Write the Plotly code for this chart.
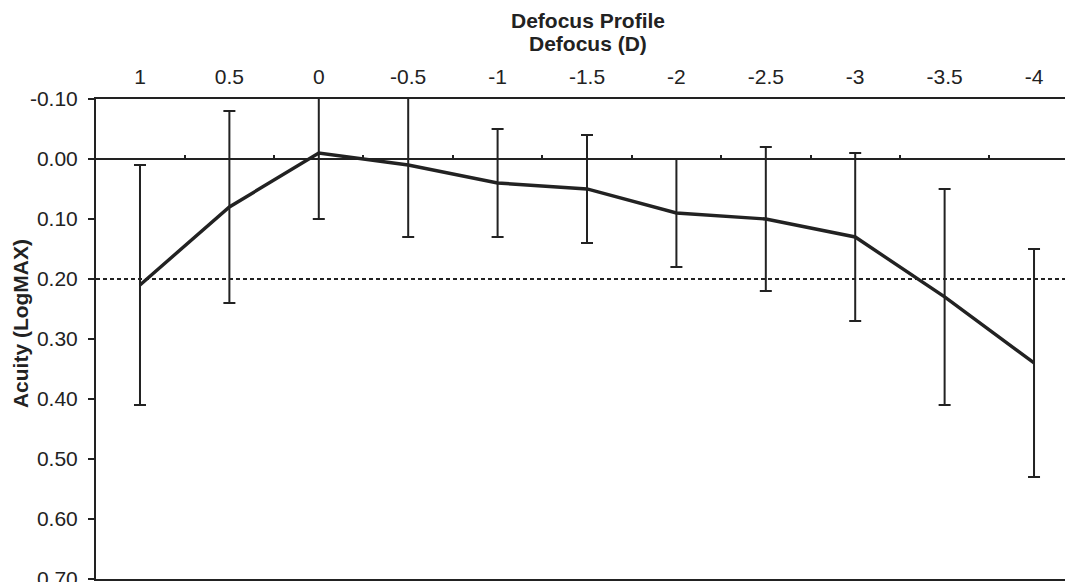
import plotly.graph_objects as go

categories = ["1", "0.5", "0", "-0.5", "-1", "-1.5", "-2", "-2.5", "-3", "-3.5", "-4"]
acuity = [0.21, 0.08, -0.01, 0.01, 0.04, 0.05, 0.09, 0.10, 0.13, 0.23, 0.34]
err = [0.20, 0.16, 0.11, 0.12, 0.09, 0.09, 0.09, 0.12, 0.14, 0.18, 0.19]
y_ticks = [-0.1, 0.0, 0.1, 0.2, 0.3, 0.4, 0.5, 0.6, 0.7]
threshold = 0.20

xpos = list(range(len(categories)))
half_ticks = [i + 0.5 for i in range(-1, len(categories))]

ink = "#222222"
font = "Liberation Sans, Arial, sans-serif"
fs = 21

fig = go.Figure()
fig.add_trace(go.Scatter(
    x=xpos, y=acuity, mode="lines",
    line=dict(color=ink, width=3.4),
    error_y=dict(type="data", array=err, visible=True, color=ink, thickness=2, width=6),
    showlegend=False, hoverinfo="skip"))
# invisible trace to activate the minor-tick axis on the zero line
fig.add_trace(go.Scatter(x=[xpos[0]], y=[acuity[0]], xaxis="x2", mode="markers",
                         marker=dict(opacity=0), showlegend=False, hoverinfo="skip"))

fig.add_shape(type="line", xref="paper", x0=0, x1=1, yref="y", y0=threshold, y1=threshold,
              line=dict(color=ink, width=2, dash="4px,3px"))

fig.add_annotation(text="<b>Defocus Profile</b>", xref="paper", yref="paper", x=0.504, y=1,
                   xanchor="center", yanchor="middle", yshift=79, showarrow=False,
                   font=dict(size=fs, color=ink, family=font))
fig.add_annotation(text="<b>Defocus (D)</b>", xref="paper", yref="paper", x=0.504, y=1,
                   xanchor="center", yanchor="middle", yshift=56, showarrow=False,
                   font=dict(size=fs, color=ink, family=font))
fig.add_annotation(text="<b>Acuity (LogMAX)</b>", xref="paper", yref="paper", x=0, y=0.531,
                   xanchor="center", yanchor="middle", xshift=-76, textangle=-90,
                   showarrow=False, font=dict(size=fs, color=ink, family=font))

xr = [-0.492, 10.436]
fig.update_layout(
    width=1065, height=574,
    margin=dict(l=88, r=0, t=91, b=3, autoexpand=False),
    paper_bgcolor="white", plot_bgcolor="white",
    font=dict(family=font, size=fs, color=ink),
    xaxis=dict(range=xr, tickmode="array", tickvals=xpos, ticktext=categories,
               side="top", showgrid=False, zeroline=False, showline=True, linecolor=ink,
               linewidth=2, mirror=True, ticks="", ticklabelstandoff=5, automargin=False),
    xaxis2=dict(range=xr, overlaying="x", anchor="free", position=0.875, side="top",
                tickmode="array", tickvals=half_ticks, ticks="outside", ticklen=4,
                tickwidth=2, tickcolor=ink, showticklabels=False, showgrid=False,
                zeroline=False, showline=False, automargin=False),
    yaxis=dict(range=[0.7002, -0.1], tickmode="array", tickvals=y_ticks,
               ticktext=[f"{v:.2f}" for v in y_ticks], showgrid=False,
               zeroline=True, zerolinecolor=ink, zerolinewidth=2,
               showline=True, linecolor=ink, linewidth=2, ticks="outside", ticklen=6,
               tickwidth=2, tickcolor=ink, ticklabelstandoff=6,
               ticklabeloverflow="allow", automargin=False),
)

fig.write_html("out.html")
